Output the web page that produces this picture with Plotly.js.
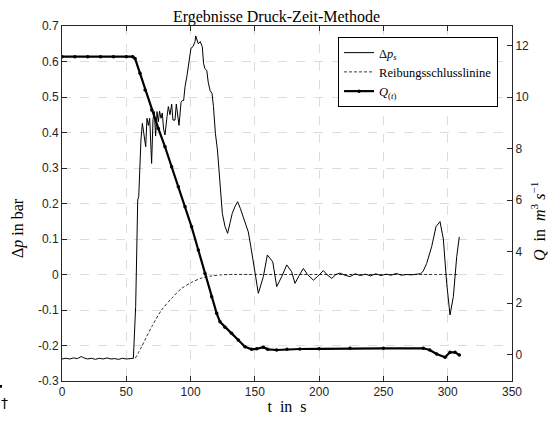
<!DOCTYPE html>
<html>
<head>
<meta charset="utf-8">
<script src="https://cdn.plot.ly/plotly-3.0.1.min.js"></script>
<style>html,body{margin:0;padding:0;background:#fff;}#chart{width:553px;height:421px;}</style>
</head>
<body>
<div id="chart"></div>
<script>
// Δp_s (bar) – time in s
const tDp = [0,3,6,9,12,15,17,20,23,26,29,32,35,38,41,44,47,50,53,55.5,
  57.3,58.9,59.7,61.4,62.5,64,65.1,66.1,67.2,68.2,69.7,70.8,71.8,72.8,73.9,74.9,75.9,77,78,79,80.1,81.7,82.7,84,85.3,86.3,87.9,88.9,90,91,92.6,93.6,94.6,95.7,97.2,98.8,100.3,101.9,103.5,104,106,107.5,109.1,110.1,111.1,112.6,113.7,115.2,116.7,117.8,119.3,120.9,122.9,124.7,126.8,128.8,130.6,132.4,134.5,136.6,138.7,141,142.8,144.9,146.9,149.5,152.7,156.6,159.7,163.9,167,170.9,174.8,178.6,181.2,184.6,187.7,191,195.5,199,203.3,206,209.8,213,216,220,224,228,232,236,240,244,248,252,256,260,264,268,272,276,279,281,283.6,287.5,290.9,294,296.6,299.2,301.8,304.4,307,309];
const dp = [-0.238,-0.236,-0.238,-0.235,-0.237,-0.231,-0.235,-0.238,-0.236,-0.239,-0.236,-0.238,-0.235,-0.238,-0.237,-0.239,-0.236,-0.238,-0.237,-0.236,
  -0.09,0.21,0.22,0.379,0.426,0.388,0.36,0.44,0.42,0.44,0.313,0.437,0.459,0.39,0.459,0.43,0.46,0.44,0.455,0.41,0.393,0.445,0.473,0.45,0.48,0.435,0.435,0.48,0.445,0.42,0.485,0.49,0.49,0.529,0.56,0.604,0.637,0.642,0.656,0.672,0.65,0.656,0.642,0.595,0.58,0.575,0.542,0.518,0.51,0.473,0.398,0.351,0.247,0.172,0.135,0.116,0.144,0.172,0.191,0.205,0.186,0.163,0.139,0.12,0.078,0.013,-0.053,-0.006,0.055,0.036,-0.034,-0.006,0.027,0.008,-0.025,-0.002,0.017,0.0,-0.016,-0.005,0.011,0.0,-0.011,0.0,0.004,-0.002,-0.006,0.002,-0.003,0.001,-0.004,0.002,-0.003,0.001,-0.002,0.003,-0.002,0.0,-0.001,0.001,0.002,0.01,0.031,0.078,0.135,0.149,0.1,-0.025,-0.114,-0.062,0.05,0.106];

// Reibungsschlusslinine (bar)
const tRs = [57,62,69.8,77.5,85.3,93.1,100.8,108.6,116.4,124,130,160,200,250,309];
const rs  = [-0.236,-0.203,-0.147,-0.1,-0.067,-0.039,-0.022,-0.01,-0.004,-0.001,0,0,0,0,0];

// Q(t) (m^3 s^-1)
const tQ = [0,10,20,30,40,50,55,56.8,60.7,64.6,69.8,74.9,80.1,85.3,90.5,95.7,100.8,106,111.2,116.4,120.3,122.9,126.8,131.9,137.1,142.3,147.5,151.4,156.6,160,167,175,185,200,224,250,281,286,291.4,297.9,301.8,305.7,309];
const q  = [11.57,11.57,11.57,11.57,11.57,11.57,11.57,11.5,10.92,10.27,9.5,8.78,8.07,7.29,6.52,5.74,4.96,4.06,3.15,2.24,1.6,1.27,1.06,0.82,0.56,0.3,0.2,0.22,0.28,0.2,0.175,0.2,0.214,0.22,0.24,0.24,0.24,0.175,0.02,-0.11,0.085,0.085,-0.02];

const legendNames = ['Δ<i>p</i><sub><i>s</i></sub>', 'Reibungsschlusslinine', '<i>Q</i><sub>(<i>t</i>)</sub>'];
const xTicks = [0,50,100,150,200,250,300,350];
const yTicks = [-0.3,-0.2,-0.1,0,0.1,0.2,0.3,0.4,0.5,0.6,0.7];
const yTickText = ['-0.3','-0.2','-0.1','0','0.1','0.2','0.3','0.4','0.5','0.6','0.7'];
const y2Ticks = [0,2,4,6,8,10,12];
const yTitle = 'Δ<i>p</i> in bar';
const y2Title = '<i>Q</i>  in  <i>m</i><sup>3</sup> <i>s</i><sup>−1</sup>';

const axisCol = '#262626';
const gridCol = '#dcdcdc';
const tickFont = {family:'Liberation Sans, Arial, sans-serif', size:12, color:axisCol};
const serif = 'Liberation Serif, Times New Roman, serif';

const traces = [
  {x:tDp, y:dp, name:legendNames[0], type:'scatter', mode:'lines', line:{color:'#000', width:1}, yaxis:'y'},
  {x:tRs, y:rs, name:legendNames[1], type:'scatter', mode:'lines', line:{color:'#000', width:0.8, dash:'3px,2px', shape:'spline', smoothing:0.8}, yaxis:'y'},
  {x:tQ, y:q, name:legendNames[2], type:'scatter', mode:'lines+markers', line:{color:'#000', width:2.2}, marker:{color:'#000', size:3.5}, yaxis:'y2'}
];

const layout = {
  width:553, height:421,
  margin:{l:62, r:41, t:26, b:40},
  paper_bgcolor:'#fff', plot_bgcolor:'#fff',
  showlegend:true,
  title:{text:'Ergebnisse Druck-Zeit-Methode', font:{family:serif, size:16, color:'#000'}, x:0.5, xanchor:'center', y:0.962, yanchor:'middle'},
  xaxis:{range:[0,350], tickvals:xTicks, ticktext:xTicks.map(String), ticks:'inside', ticklen:5, tickcolor:axisCol,
    showline:true, linecolor:axisCol, linewidth:1, mirror:'ticks', showgrid:true, gridcolor:gridCol, griddash:'dash', gridwidth:1,
    zeroline:false, tickfont:tickFont,
    title:{text:'t  in  s', font:{family:serif, size:16, color:'#000'}, standoff:2}},
  yaxis:{range:[-0.3,0.7], tickvals:yTicks, ticktext:yTickText, ticks:'inside', ticklen:5, tickcolor:axisCol,
    showline:true, linecolor:axisCol, linewidth:1, showgrid:true, gridcolor:gridCol, griddash:'dash', gridwidth:1,
    zeroline:false, tickfont:tickFont},
  yaxis2:{range:[-1.03,12.76], overlaying:'y', side:'right', tickvals:y2Ticks, ticktext:y2Ticks.map(String), ticks:'inside', ticklen:5, tickcolor:axisCol,
    showline:true, linecolor:axisCol, linewidth:1, showgrid:false, zeroline:false, tickfont:tickFont},
  legend:{x:0.969, y:0.969, xanchor:'right', yanchor:'top', bgcolor:'#fff', bordercolor:'#000', borderwidth:1,
    font:{family:serif, size:12.5, color:'#000'}, tracegroupgap:0, itemwidth:30},
  annotations:[
    {xref:'paper', yref:'paper', x:(18-62)/450, y:1-(228-26)/355, xanchor:'center', yanchor:'middle', textangle:-90, text:yTitle, showarrow:false, font:{family:serif, size:16, color:'#000'}},
    {xref:'paper', yref:'paper', x:(538-62)/450, y:1-(222-26)/355, xanchor:'center', yanchor:'middle', textangle:-90, text:y2Title, showarrow:false, font:{family:serif, size:16, color:'#000'}},
    {xref:'paper', yref:'paper', x:-0.127, y:-0.062, xanchor:'center', yanchor:'middle', text:'†', showarrow:false, font:{family:'DejaVu Sans, sans-serif', size:14, color:'black'}}
  ],
  shapes:[{type:'rect', xref:'paper', yref:'paper', x0:-0.1378, x1:-0.1334, y0:-0.011, y1:-0.019, fillcolor:'#000', line:{width:0}}]
};

Plotly.newPlot('chart', traces, layout, {displayModeBar:false, staticPlot:true});
</script>
</body>
</html>
